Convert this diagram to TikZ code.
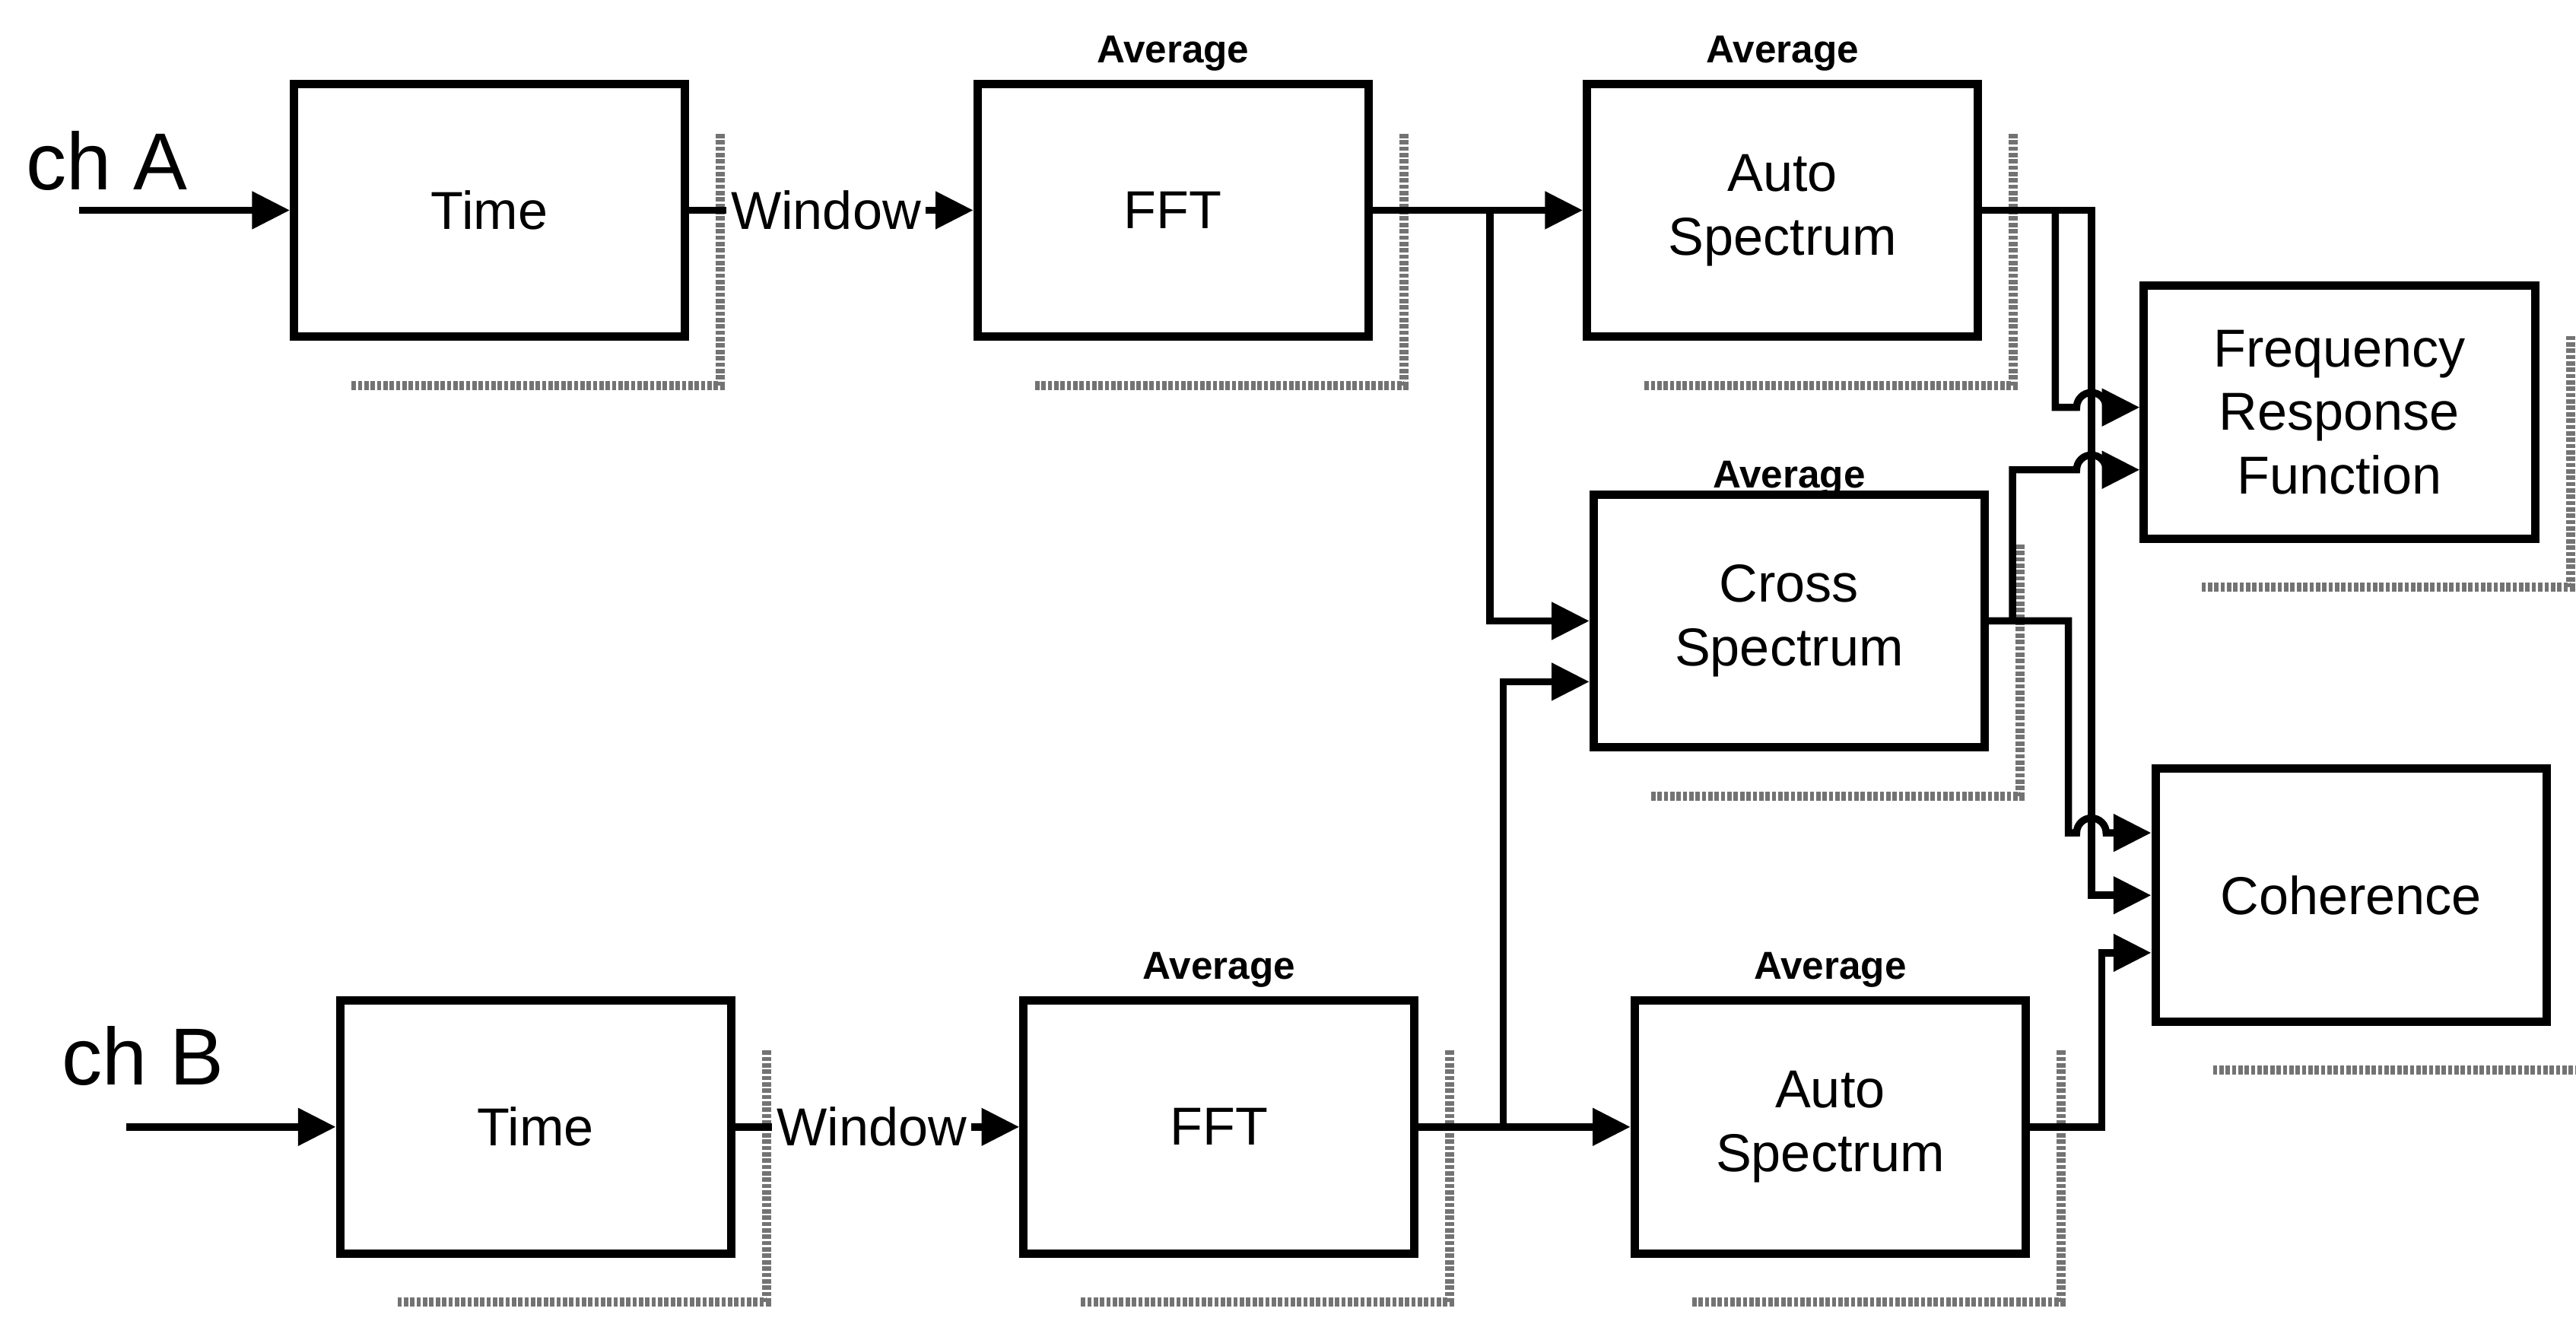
\documentclass[tikz,border=0pt]{standalone}
\usepackage{fontspec}
\setmainfont{Liberation Sans}
\usetikzlibrary{arrows.meta, positioning, calc}
\tikzset{
  %% Processing block
  blk/.style={
    rectangle, draw=black, fill=white, line width=2.9pt,
    minimum width=47.6mm, minimum height=30.8mm,
    align=center, font=\fontsize{18.5}{22}\selectfont
  },
  %% Average tag over a block
  avg/.style={font=\fontsize{13.5}{15}\selectfont\bfseries, inner sep=0pt},
  %% Channel name
  chlbl/.style={font=\fontsize{28}{32}\selectfont, inner sep=0pt},
  %% Label sitting on a link
  winlbl/.style={font=\fontsize{18.5}{22}\selectfont, inner sep=0.5mm},
  %% Arrow
  arr/.style={-{Triangle[length=4.6mm,width=4.4mm]},
              draw=black, line width=2.5pt},
  lnk/.style={draw=black, line width=2.5pt},
  %% Drop shadow
  shd/.style={draw=black!55, line width=1.1mm,
              dash pattern=on 1.5pt off 0.7pt},
}

\begin{document}
\begin{tikzpicture}[x=0.2mm, y=0.2mm]
  \useasboundingbox (0,0) rectangle (1568,804);

  %% channel A
  \node[blk] (timeA) at (298,676)  {Time};
  \node[blk] (fftA)  at (714,676)  {FFT};
  \node[blk] (autoA) at (1085,676) {Auto\\Spectrum};
  %% channel B
  \node[blk] (timeB) at (326,118)  {Time};
  \node[blk] (fftB)  at (742,118)  {FFT};
  \node[blk] (autoB) at (1114,118) {Auto\\Spectrum};
  %% cross spectrum and results
  \node[blk] (cross) at (1089,426) {Cross\\Spectrum};
  \node[blk] (frf)   at (1424,553) {Frequency\\Response\\Function};
  \node[blk] (coh)   at (1431,259) {Coherence};

  \node[avg, above=1mm of fftA]    (avgFA) {Average};
  \node[avg, above=1mm of autoA]   (avgAA) {Average};
  \node[avg, above=-0.8mm of cross] (avgCr) {Average};
  \node[avg, above=1mm of fftB]    (avgFB) {Average};
  \node[avg, above=1mm of autoB]   (avgAB) {Average};

  \foreach \b in {timeA,fftA,autoA,timeB,fftB,autoB,cross,frf,coh}
    \draw[shd] ($(\b.north east)+(19,-33)$) |- ($(\b.south west)+(37,-27)$);

  %% inputs
  \coordinate (inA) at (48,676);
  \coordinate (inB) at (77,118);
  \node[chlbl] (chA) at (65,706) {ch A};
  \node[chlbl] (chB) at (87,161) {ch B};
  \draw[arr] (inA) -- (timeA);
  \draw[arr] (inB) -- (timeB);

  %% windowing
  \node[winlbl, right=4.5mm of timeA] (winA) {Window};
  \node[winlbl, right=4.5mm of timeB] (winB) {Window};
  \draw[lnk] (timeA) -- (winA);
  \draw[arr] (winA) -- (fftA);
  \draw[lnk] (timeB) -- (winB);
  \draw[arr] (winB) -- (fftB);

  %% spectra
  \coordinate (tapA) at (907,676);
  \coordinate (tapB) at (915,118);
  \draw[arr] (fftA) -- (autoA);
  \draw[arr] (tapA) |- (cross);
  \draw[arr] (fftB) -- (autoB);
  \draw[arr] (tapB) |- ($(cross.west)+(0,-37)$);

  %% frequency response and coherence
  \coordinate (busX) at (1273,0);
  \coordinate (tapC) at (1251,676);
  \coordinate (tapD) at (1225,426);
  \draw[arr] (autoA) -| (busX |- coh) -- (coh);
  \draw[arr] (tapC) |- (1264,556) arc[start angle=180, end angle=0, radius=9]
             -- ($(frf.west)+(0,3)$);
  \draw[arr] (tapD) |- (1264,518) arc[start angle=180, end angle=0, radius=9]
             -- ($(frf.west)+(0,-35)$);
  \draw[arr] (cross.east) -| (1259,297) -- (1264,297)
             arc[start angle=180, end angle=0, radius=9]
             -- ($(coh.west)+(0,38)$);
  \draw[arr] (autoB) -| ($(coh.west)+(-30,-35)$) -- ($(coh.west)+(0,-35)$);

\end{tikzpicture}
\end{document}
